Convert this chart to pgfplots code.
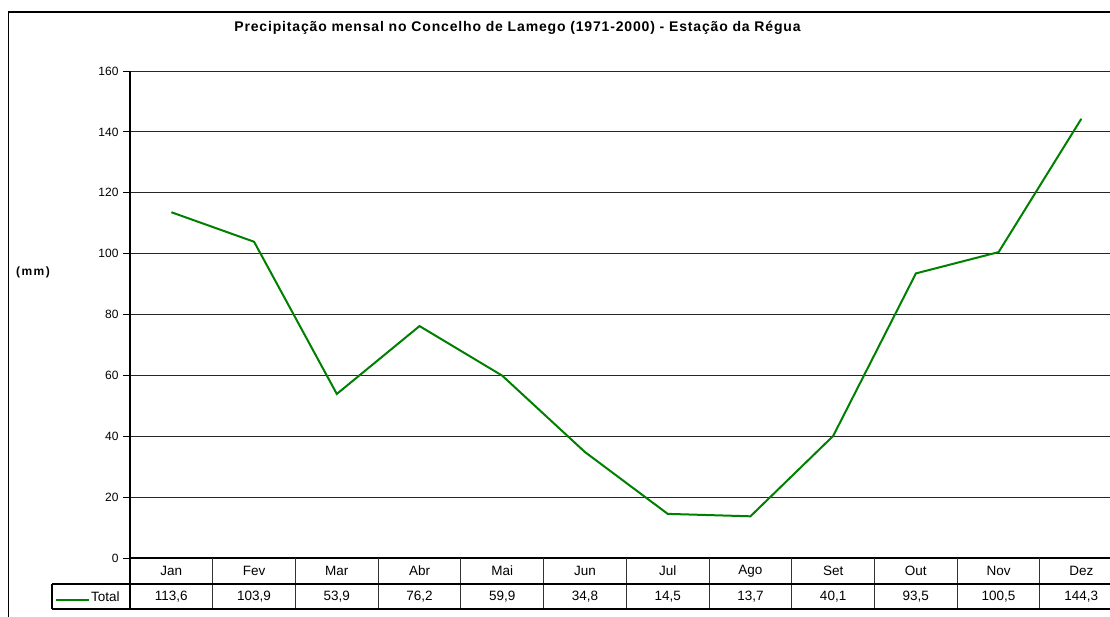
\documentclass[border=0pt]{standalone}
\usepackage{fontspec}
\setmainfont{Liberation Sans}
\usepackage{pgfplots}
\pgfplotsset{compat=1.18}
\definecolor{linegreen}{RGB}{0,128,0}
\begin{document}
\begin{tikzpicture}[x=1pt,y=1pt]
\useasboundingbox (0,0) rectangle (1110,-616);
\clip (0,0) rectangle (1110,-616);
\fill[white] (0,0) rectangle (1110,-616);
% outer frame
\draw[line width=1.2pt] (8.5,-12) rectangle (1140,-640);
\begin{axis}[
  at={(130pt,-558pt)}, anchor=south west,
  scale only axis, width=992.7pt, height=487pt,
  xmin=-0.5, xmax=11.5, ymin=0, ymax=160,
  ytick={0,20,...,160}, xtick=\empty,
  axis x line=bottom, axis y line=left,
  axis line style={-, line width=1.3pt, black},
  ymajorgrids, major grid style={line width=1pt, black!85},
  tick align=outside, major tick length=7pt, ytick pos=left,
  tick style={line width=1pt, black},
  /pgf/number format/assume math mode=true,
  yticklabel style={font=\fontsize{12}{12}\selectfont, xshift=-1pt},
  clip=false,
]
\addplot[linegreen, line width=2pt, mark=none] coordinates {
  (0,113.6) (1,103.9) (2,53.9) (3,76.2) (4,59.9) (5,34.8)
  (6,14.5) (7,13.7) (8,40.1) (9,93.5) (10,100.5) (11,144.3)
};
\end{axis}
% title and unit label
\node[font=\bfseries\fontsize{14}{15}\selectfont\addfontfeatures{LetterSpace=6}] at (517.5,-28) {Precipitação mensal no Concelho de Lamego (1971-2000) - Estação da Régua};
\node[font=\bfseries\fontsize{12}{12}\selectfont\addfontfeatures{LetterSpace=12}, anchor=west, inner sep=0pt] at (16,-272) {(mm)};
% data table
\foreach \k in {0,...,12} {
  \draw[line width=1pt, black!80] ({130+\k*82.72},-558) -- ({130+\k*82.72},-609);
}
\draw[line width=1.3pt] (52,-584) -- (1140,-584);
\draw[line width=1.3pt] (52,-609) -- (1140,-609);
\draw[line width=1.3pt] (52,-584) -- (52,-609);
\draw[line width=1.3pt] (130,-558) -- (130,-609);
\draw[linegreen, line width=2pt] (56,-600) -- (89,-600);
\node[anchor=west, inner sep=0pt, font=\fontsize{13.5}{14}\selectfont] at (91,-597) {Total};
\foreach \m [count=\i from 0] in {Jan,Fev,Mar,Abr,Mai,Jun,Jul,Ago,Set,Out,Nov,Dez} {
  \node[inner sep=0pt, font=\fontsize{13.5}{14}\selectfont] at ({130+(\i+0.5)*82.72},-571) {\m};
}
\foreach \v [count=\i from 0] in {113{,}6,103{,}9,53{,}9,76{,}2,59{,}9,34{,}8,14{,}5,13{,}7,40{,}1,93{,}5,100{,}5,144{,}3} {
  \node[inner sep=0pt, font=\fontsize{13.5}{14}\selectfont] at ({130+(\i+0.5)*82.72},-597) {\v};
}
\end{tikzpicture}
\end{document}
